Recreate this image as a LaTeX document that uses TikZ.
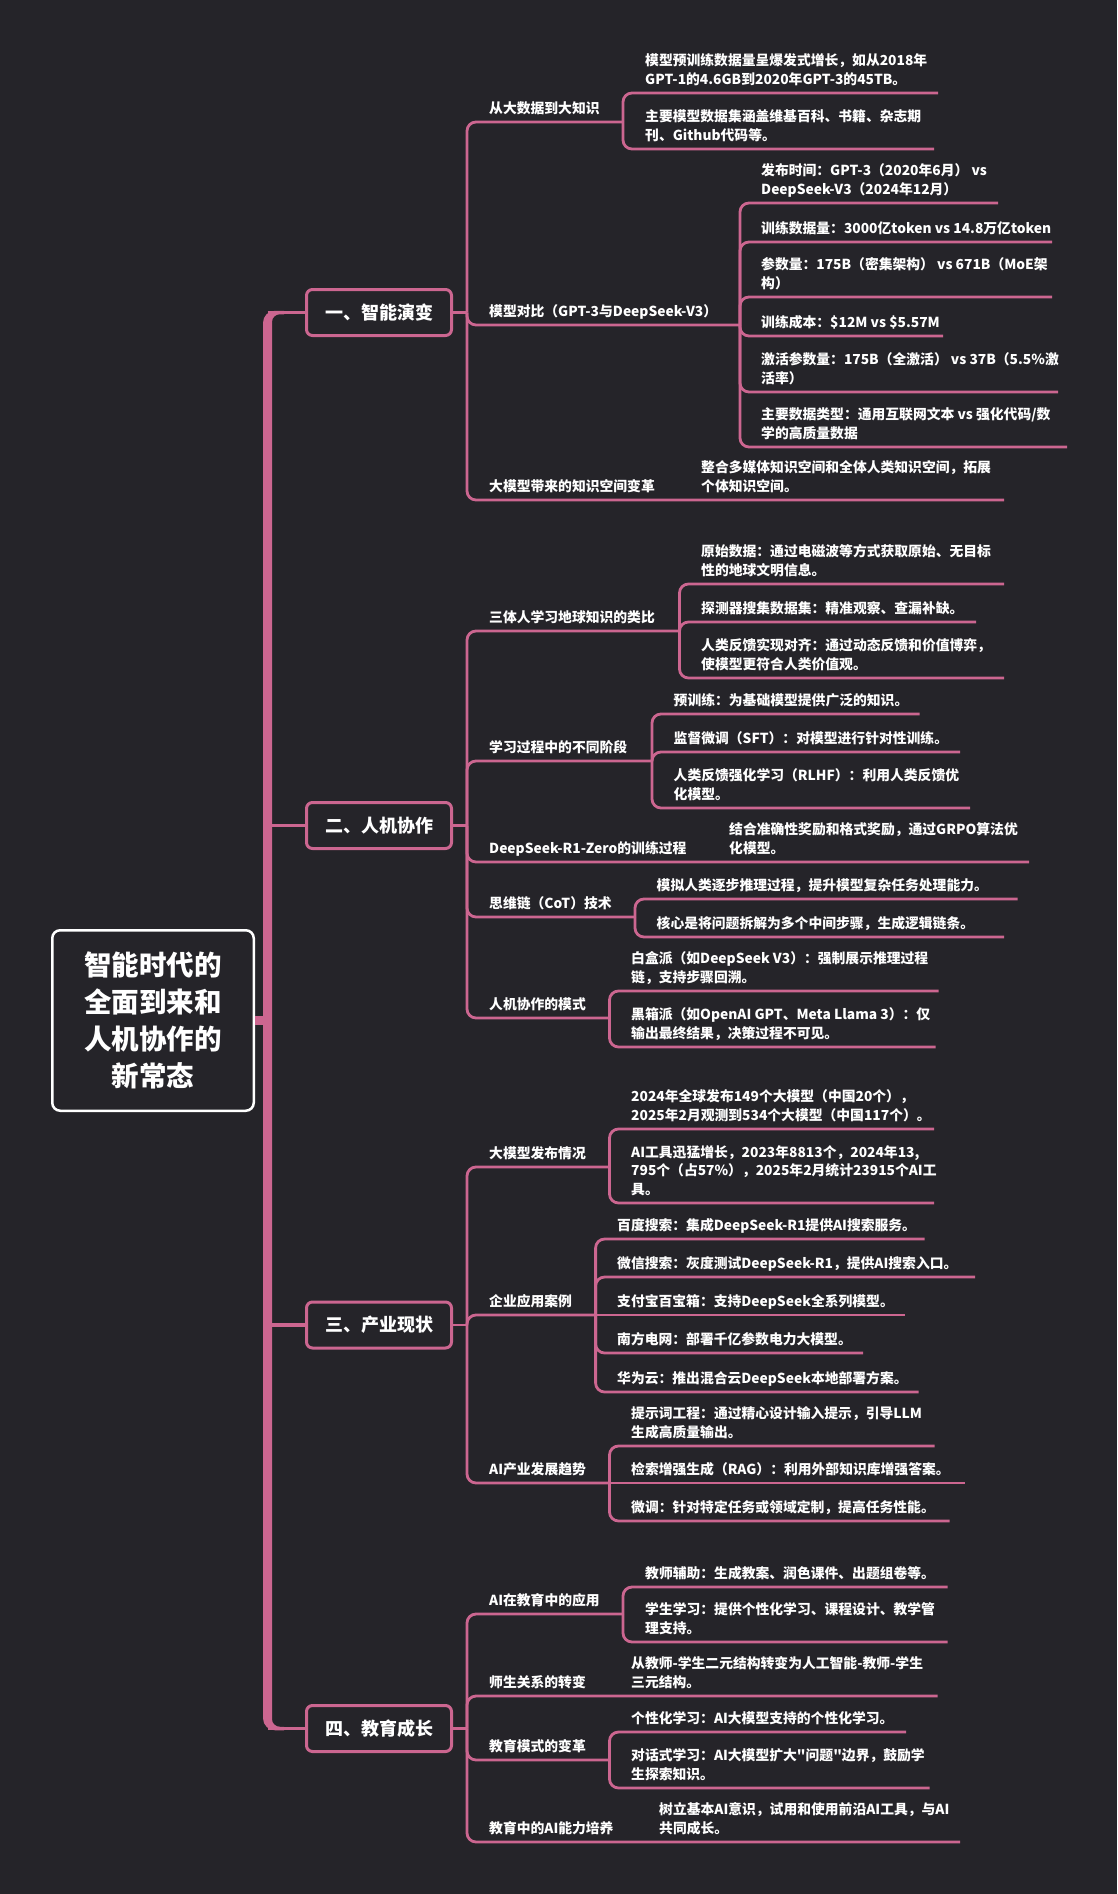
\documentclass[tikz,border=0pt]{standalone}
\usepackage{fontspec}
\setmainfont{Noto Sans CJK SC}[Ligatures=TeXOff]
\definecolor{bg}{RGB}{37,36,41}
\definecolor{pk}{RGB}{204,102,144}
\tikzset{
  conn/.style={draw=pk, line width=2.8pt, rounded corners=9pt},
  txt/.style={font=\fontsize{13.8}{18.3}\selectfont\bfseries, text=white, align=left, inner sep=0pt, text depth=0pt, anchor=south west},
  topic/.style={draw=pk, line width=3pt, rounded corners=6pt, fill=bg, minimum width=145pt, minimum height=46pt, inner sep=0pt, text=white, font=\fontsize{18}{18}\selectfont\bfseries},
  rootbox/.style={draw=white, line width=2.5pt, rounded corners=8pt, fill=bg, minimum width=201.5pt, minimum height=180.5pt, inner sep=0pt, text=white, align=center, font=\fontsize{27.5}{37}\selectfont\bfseries},
}
\newcommand\topicnode[3]{%
  \node[topic] (#1) at (379,#2) {#3};
  \coordinate (#1-t) at (267.5,#2);
  \coordinate (#1-j) at (467,#2);
  \draw[conn, rounded corners=0pt, line width=3.5pt] (#1-t) -- (#1.west);
  \draw[conn, rounded corners=0pt] (#1.east) -- (#1-j);
}
\newcommand\subbranch[6]{%
  \node[txt] (#1) at (#3,#4-8.7) {#6};
  \coordinate (#1-u) at (#5,#4);
  \draw[conn] (#2) |- (#1-u);
}
\newcommand\subbranchstraight[6]{%
  \node[txt] (#1) at (#3,#4-8.7) {#6};
  \coordinate (#1-u) at (#5,#4);
  \draw[conn] (#2) -- (#1-u);
}
\newcommand\leafnote[4]{%
  \node[txt] (#1) at (#2,#3-8.7) {#4};
}
\begin{document}
\begin{tikzpicture}[x=1pt,y=-1pt]
\fill[bg] (0,0) rectangle (1117,1894);
\useasboundingbox (0,0) rectangle (1117,1894);

% trunk (thick spine with rounded ends tapering into the thin branches)
\fill[pk] (263,1718.25) -- (263,322.75)
  .. controls (263,316.1) and (268.4,310.75) .. (275,310.75)
  -- (284,310.75) -- (284,314.25) -- (280,314.25)
  .. controls (275.5,314.25) and (272,317.5) .. (272,322)
  -- (272,1719)
  .. controls (272,1723.5) and (275.5,1726.75) .. (280,1726.75)
  -- (284,1726.75) -- (284,1730.25) -- (275,1730.25)
  .. controls (268.4,1730.25) and (263,1724.9) .. (263,1718.25) -- cycle;

% root
\node[rootbox] (root) at (153,1020.5) {智能时代的\\全面到来和\\人机协作的\\新常态};
\coordinate (rootj) at (267.5,1020.5);
\draw[draw=pk, line width=9pt] (root.east) -- (rootj);

% ===== Section 1 =====
\topicnode{T1}{312.5}{一、智能演变}
\subbranch{A1}{T1-j}{489}{122}{623}{从大数据到大知识}
\subbranch{A1a}{A1-u}{645}{93}{938}{模型预训练数据量呈爆发式增长，如从2018年\\GPT-1的4.6GB到2020年GPT-3的45TB。}
\subbranch{A1b}{A1-u}{645}{149}{934}{主要模型数据集涵盖维基百科、书籍、杂志期\\刊、Github代码等。}
\subbranch{A2}{T1-j}{489}{325}{740}{模型对比（GPT-3与DeepSeek-V3）}
\subbranch{A2a}{A2-u}{761}{203}{998}{发布时间：GPT-3（2020年6月） vs\\DeepSeek-V3（2024年12月）}
\subbranch{A2b}{A2-u}{761}{242}{1052}{训练数据量：3000亿token vs 14.8万亿token}
\subbranch{A2c}{A2-u}{761}{297}{1052}{参数量：175B（密集架构） vs 671B（MoE架\\构）}
\subbranch{A2d}{A2-u}{761}{336}{943}{训练成本：\$12M vs \$5.57M}
\subbranch{A2e}{A2-u}{761}{392}{1058}{激活参数量：175B（全激活） vs 37B（5.5\%激\\活率）}
\subbranch{A2f}{A2-u}{761}{447}{1067}{主要数据类型：通用互联网文本 vs 强化代码/数\\学的高质量数据}
\subbranch{A3}{T1-j}{489}{500}{1004}{大模型带来的知识空间变革}
\leafnote{A3a}{701}{500}{整合多媒体知识空间和全体人类知识空间，拓展\\个体知识空间。}

% ===== Section 2 =====
\topicnode{T2}{825.5}{二、人机协作}
\subbranch{B1}{T2-j}{489}{631}{679.5}{三体人学习地球知识的类比}
\subbranch{B1a}{B1-u}{701}{584}{1004}{原始数据：通过电磁波等方式获取原始、无目标\\性的地球文明信息。}
\subbranch{B1b}{B1-u}{701}{622}{976}{探测器搜集数据集：精准观察、查漏补缺。}
\subbranch{B1c}{B1-u}{701}{678}{1004}{人类反馈实现对齐：通过动态反馈和价值博弈，\\使模型更符合人类价值观。}
\subbranch{B2}{T2-j}{489}{761}{652}{学习过程中的不同阶段}
\subbranch{B2a}{B2-u}{673.5}{714}{919.5}{预训练：为基础模型提供广泛的知识。}
\subbranch{B2b}{B2-u}{673.5}{752}{960}{监督微调（SFT）：对模型进行针对性训练。}
\subbranch{B2c}{B2-u}{673.5}{808}{970}{人类反馈强化学习（RLHF）：利用人类反馈优\\化模型。}
\subbranch{B3}{T2-j}{489}{862}{1029}{DeepSeek-R1-Zero的训练过程}
\leafnote{B3a}{729}{862}{结合准确性奖励和格式奖励，通过GRPO算法优\\化模型。}
\subbranch{B4}{T2-j}{489}{917}{635}{思维链（CoT）技术}
\subbranch{B4a}{B4-u}{656.5}{899}{1017.5}{模拟人类逐步推理过程，提升模型复杂任务处理能力。}
\subbranch{B4b}{B4-u}{656.5}{937}{1004}{核心是将问题拆解为多个中间步骤，生成逻辑链条。}
\subbranch{B5}{T2-j}{489}{1018}{609.5}{人机协作的模式}
\subbranch{B5a}{B5-u}{631}{991}{938.5}{白盒派（如DeepSeek V3）：强制展示推理过程\\链，支持步骤回溯。}
\subbranch{B5b}{B5-u}{631}{1047}{935.7}{黑箱派（如OpenAI GPT、Meta Llama 3）：仅\\输出最终结果，决策过程不可见。}

% ===== Section 3 =====
\topicnode{T3}{1325}{三、产业现状}
\subbranch{C1}{T3-j}{489}{1167}{609.5}{大模型发布情况}
\subbranch{C1a}{C1-u}{631}{1129}{934}{2024年全球发布149个大模型（中国20个），\\2025年2月观测到534个大模型（中国117个）。}
\subbranch{C1b}{C1-u}{631}{1203}{934}{AI工具迅猛增长，2023年8813个，2024年13,\\795个（占57\%），2025年2月统计23915个AI工\\具。}
\subbranch{C2}{T3-j}{489}{1315}{595.6}{企业应用案例}
\subbranch{C2a}{C2-u}{617}{1239}{924.6}{百度搜索：集成DeepSeek-R1提供AI搜索服务。}
\subbranch{C2b}{C2-u}{617}{1277}{975}{微信搜索：灰度测试DeepSeek-R1，提供AI搜索入口。}
\subbranchstraight{C2c}{C2-u}{617}{1315}{905}{支付宝百宝箱：支持DeepSeek全系列模型。}
\subbranch{C2d}{C2-u}{617}{1353}{863}{南方电网：部署千亿参数电力大模型。}
\subbranch{C2e}{C2-u}{617}{1392}{918.7}{华为云：推出混合云DeepSeek本地部署方案。}
\subbranch{C3}{T3-j}{489}{1483}{609.5}{AI产业发展趋势}
\subbranch{C3a}{C3-u}{631}{1446}{934.5}{提示词工程：通过精心设计输入提示，引导LLM\\生成高质量输出。}
\subbranchstraight{C3b}{C3-u}{631}{1483}{965}{检索增强生成（RAG）：利用外部知识库增强答案。}
\subbranch{C3c}{C3-u}{631}{1521}{949.5}{微调：针对特定任务或领域定制，提高任务性能。}

% ===== Section 4 =====
\topicnode{T4}{1728.5}{四、教育成长}
\subbranch{D1}{T4-j}{489}{1614}{623}{AI在教育中的应用}
\subbranch{D1a}{D1-u}{645}{1587}{947.5}{教师辅助：生成教案、润色课件、出题组卷等。}
\subbranch{D1b}{D1-u}{645}{1642}{947.5}{学生学习：提供个性化学习、课程设计、教学管\\理支持。}
\subbranch{D2}{T4-j}{489}{1696}{937.7}{师生关系的转变}
\leafnote{D2a}{631}{1696}{从教师-学生二元结构转变为人工智能-教师-学生\\三元结构。}
\subbranch{D3}{T4-j}{489}{1760}{609.5}{教育模式的变革}
\subbranch{D3a}{D3-u}{631}{1732}{906}{个性化学习：AI大模型支持的个性化学习。}
\subbranch{D3b}{D3-u}{631}{1788}{929.7}{对话式学习：AI大模型扩大"问题"边界，鼓励学\\生探索知识。}
\subbranch{D4}{T4-j}{489}{1842}{960}{教育中的AI能力培养}
\leafnote{D4a}{659}{1842}{树立基本AI意识，试用和使用前沿AI工具，与AI\\共同成长。}
\end{tikzpicture}
\end{document}
